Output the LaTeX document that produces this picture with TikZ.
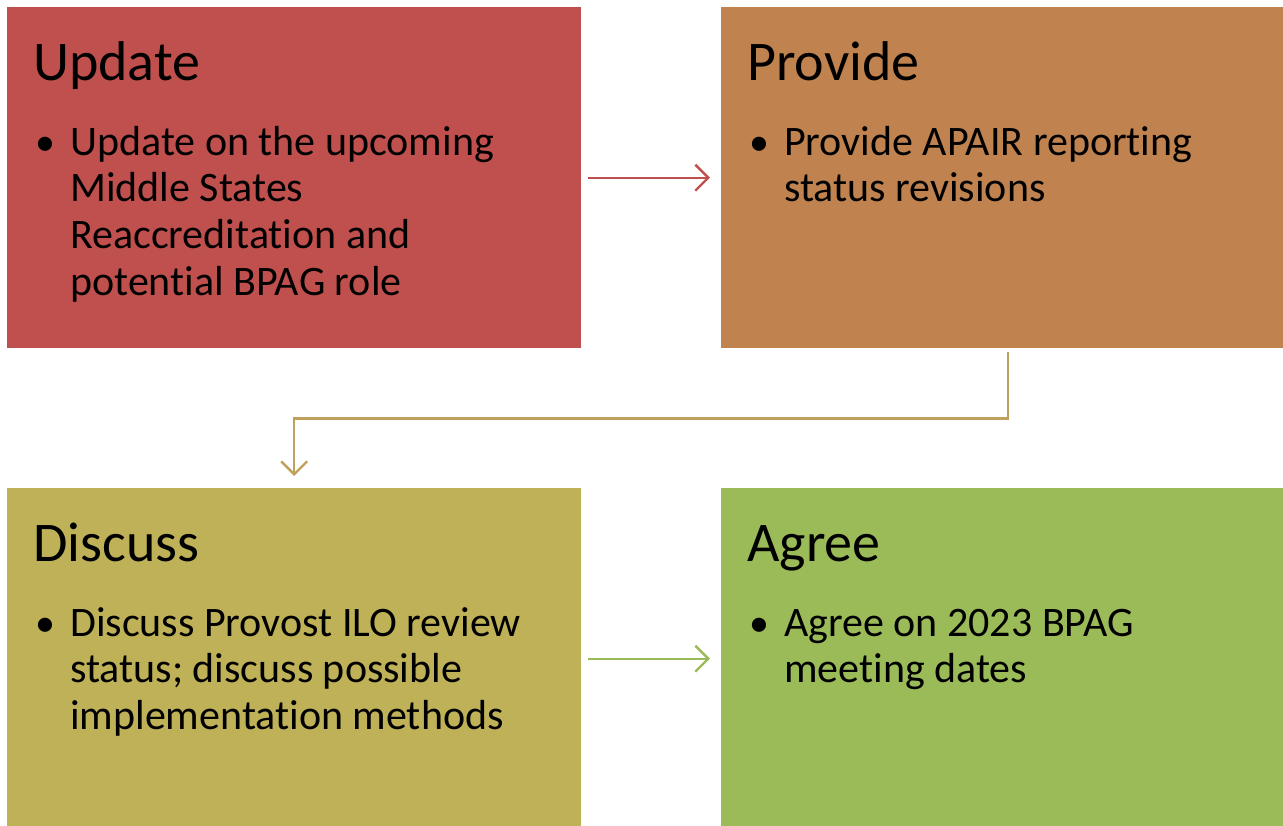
\documentclass[tikz,border=0pt]{standalone}
\usepackage{fontspec}
\setmainfont{Carlito}[Ligatures={NoCommon,NoContextual,NoRare},Contextuals=NoAlternate]
\usetikzlibrary{positioning,arrows.meta}
\definecolor{updred}{HTML}{C0504D}
\definecolor{provbrown}{HTML}{C0834F}
\definecolor{discolive}{HTML}{BEB157}
\definecolor{agreegreen}{HTML}{9BBB59}
\definecolor{elbowtan}{HTML}{C0A15C}
\begin{document}
\begin{tikzpicture}[x=1pt,y=-1pt,
    box/.style={rectangle,minimum width=574pt,minimum height=341pt,inner sep=0pt,anchor=north west},
    title/.style={font=\fontsize{56}{60}\selectfont,inner sep=0pt,anchor=base west},
    bullet/.style={font=\fontsize{40}{47}\selectfont,inner sep=0pt,anchor=base west},
    bodytext/.style={font=\fontsize{42}{46.7}\selectfont,inner sep=0pt,align=left,anchor=north west},
    flow/.style={line width=2.4pt,-{Straight Barb[length=13pt,width=26pt,line width=2.4pt]}}]
  \useasboundingbox (0,0) rectangle (1283,825);
  \clip (0,0) rectangle (1283,825);
  % boxes
  \node[box,fill=updred] (upd) at (7,7) {};
  \node[box,fill=provbrown] (prov) at (721,7) {};
  \node[box,fill=discolive] (disc) at (7,488) {};
  \node[box,fill=agreegreen] (agr) at (721,488) {};
  % titles
  \node[title] (updtitle) at ([xshift=26pt,yshift=-73pt]upd.north west) {Update};
  \node[title] (provtitle) at ([xshift=26pt,yshift=-73pt]prov.north west) {Provide};
  \node[title] (disctitle) at ([xshift=26pt,yshift=-73pt]disc.north west) {Discuss};
  \node[title] (agrtitle) at ([xshift=26pt,yshift=-73pt]agr.north west) {Agree};
  % bullets
  \node[bullet] (updbul) at ([xshift=28pt,yshift=-148pt]upd.north west) {\textbullet};
  \node[bullet] (provbul) at ([xshift=28pt,yshift=-148pt]prov.north west) {\textbullet};
  \node[bullet] (discbul) at ([xshift=28pt,yshift=-148pt]disc.north west) {\textbullet};
  \node[bullet] (agrbul) at ([xshift=28pt,yshift=-148pt]agr.north west) {\textbullet};
  % body text, first baseline on the bullet (\strut is 0.7 of 46.7pt high)
  \node[bodytext] (updtext) at ([xshift=35pt,yshift=32.69pt]updbul.base west)
    {\strut Update on the upcoming\\Middle States\\Reaccreditation and\\potential BPAG role};
  \node[bodytext] (provtext) at ([xshift=35pt,yshift=32.69pt]provbul.base west)
    {\strut Provide APAIR reporting\\status revisions};
  \node[bodytext] (disctext) at ([xshift=35pt,yshift=32.69pt]discbul.base west)
    {\strut Discuss Provost ILO review\\status; discuss possible\\implementation methods};
  \node[bodytext] (agrtext) at ([xshift=35pt,yshift=32.69pt]agrbul.base west)
    {\strut Agree on 2023 BPAG\\meeting dates};
  % connectors
  \draw[flow,updred,shorten <=7pt,shorten >=11pt] (upd.east) -- (prov.west);
  \draw[flow,elbowtan,shorten <=4pt,shorten >=12pt] (prov.south) -- ++(0,70) -| (disc.north);
  \draw[flow,agreegreen,shorten <=7pt,shorten >=11pt] (disc.east) -- (agr.west);
\end{tikzpicture}
\end{document}
